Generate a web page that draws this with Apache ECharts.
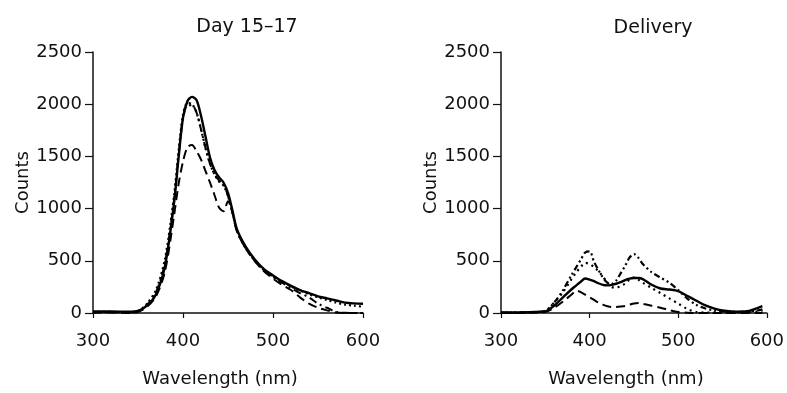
<!DOCTYPE html>
<html>
<head>
<meta charset="utf-8">
<script src="https://cdn.jsdelivr.net/npm/echarts@6/dist/echarts.min.js"></script>
<style>
html,body{margin:0;padding:0;background:#fff;}
#chart{width:787px;height:393px;}
</style>
</head>
<body>
<div id="chart"></div>
<script>
// ---- Data ----
const panelTitles = ["Day 15\u201317", "Delivery"];
const xTicks = [300, 400, 500, 600];
const yTicks = [0, 500, 1000, 1500, 2000, 2500];

// Day 15-17 panel
const wlDay = [300,320,340,350,360,370,380,390,395,400,405,410,415,420,425,430,435,440,445,450,455,460,470,480,490,500,510,520,530,540,550,560,570,580,590,600];
const daySolid  = [15,15,12,20,70,180,450,1050,1480,1870,2030,2070,2040,1890,1690,1490,1370,1300,1250,1150,980,800,630,510,420,360,305,260,220,190,160,140,120,100,92,88];
const dayDotted = [10,10,8,18,90,220,520,1120,1540,1900,2010,2000,1920,1760,1580,1430,1330,1260,1220,1120,960,790,615,500,410,350,300,255,215,180,150,125,100,80,70,60];
const dayDashed = [5,5,0,10,60,160,400,930,1230,1450,1590,1610,1550,1470,1360,1250,1130,1010,975,1070,960,780,615,495,400,330,270,220,150,90,50,25,5,0,0,0];
const dayDashDot= [8,8,5,15,80,200,480,1080,1500,1860,1990,1990,1920,1760,1580,1430,1330,1270,1230,1120,960,785,615,500,405,345,290,240,190,150,90,50,10,2,0,0];

// Delivery panel
const wlDel = [300,320,340,350,360,370,380,385,390,395,400,405,410,415,420,425,430,435,440,445,450,455,460,470,480,490,500,510,520,530,540,550,560,570,580,590,595];
const delSolid  = [5,5,10,15,70,150,230,265,300,330,320,305,285,270,265,270,280,295,315,330,335,335,325,270,235,225,210,165,120,75,45,25,15,12,20,50,65];
const delDotted = [5,5,10,20,100,200,330,390,440,480,470,440,400,350,290,250,240,260,280,320,340,320,290,240,190,140,90,40,10,5,5,5,5,5,10,15,20];
const delDashed = [0,0,5,10,50,110,180,215,200,175,150,125,100,80,65,57,58,62,68,80,92,95,88,70,50,28,10,3,0,0,0,0,0,0,0,0,0];
const delDashDot= [5,5,10,20,100,220,370,440,510,580,590,490,410,340,290,280,310,380,450,530,565,530,470,390,340,290,220,140,80,45,25,15,10,10,15,25,35];

// ---- Build ----
function pairs(xs, ys){ return xs.map((x,i)=>[x, ys[i]]); }

const FONT = "DejaVu Sans";
const grids = [
  {left:93, top:52, width:270, height:261},
  {left:501, top:52, width:268, height:261}
];

function mkX(i){
  return {
    gridIndex:i, type:'value', min:xTicks[0], max:xTicks[xTicks.length-1], interval:100,
    name:'Wavelength (nm)', nameLocation:'middle', nameGap:57,
    nameTextStyle:{fontFamily:FONT, fontSize:18, color:'#111', padding:[0,16,0,0]},
    axisLine:{lineStyle:{color:'#111', width:1.5}},
    axisTick:{show:true, inside:false, length:5, lineStyle:{color:'#111', width:1.2}},
    axisLabel:{fontFamily:FONT, fontSize:18, color:'#111', margin:19, formatter:v=>String(v)},
    splitLine:{show:false}
  };
}
function mkY(i){
  return {
    gridIndex:i, type:'value', min:yTicks[0], max:yTicks[yTicks.length-1], interval:500,
    name:'Counts', nameLocation:'middle', nameGap:56, nameRotate:90,
    nameTextStyle:{fontFamily:FONT, fontSize:18, color:'#111'},
    axisLine:{show:true, lineStyle:{color:'#111', width:1.5}},
    axisTick:{show:true, inside:false, length:8, lineStyle:{color:'#111', width:1.2}},
    axisLabel:{fontFamily:FONT, fontSize:18, color:'#111', margin:11, formatter:v=>String(v)},
    splitLine:{show:false}
  };
}
function mkLine(i, xs, ys, type, width){
  return {
    type:'line', xAxisIndex:i, yAxisIndex:i, data:pairs(xs, ys),
    showSymbol:false, symbol:'none', smooth:0.3,
    lineStyle:{color:'#000', width:width, type:type}
  };
}

const chart = echarts.init(document.getElementById('chart'), null, {renderer:'canvas'});
chart.setOption({
  backgroundColor:'#ffffff',
  animation:false,
  title:[
    {text:panelTitles[0], left:242, top:13, textAlign:'center', textStyle:{fontFamily:FONT, fontSize:19, fontWeight:'normal', color:'#111'}},
    {text:panelTitles[1], left:648, top:14, textAlign:'center', textStyle:{fontFamily:FONT, fontSize:19, fontWeight:'normal', color:'#111'}}
  ],
  grid:grids,
  xAxis:[mkX(0), mkX(1)],
  yAxis:[mkY(0), mkY(1)],
  series:[
    mkLine(0, wlDay, dayDashed, [9,5], 2),
    mkLine(0, wlDay, dayDashDot, [8,4,2,4], 2),
    mkLine(0, wlDay, dayDotted, [2,3], 2.2),
    mkLine(0, wlDay, daySolid, 'solid', 2.4),
    mkLine(1, wlDel, delDashed, [9,5], 2),
    mkLine(1, wlDel, delDotted, [2,4], 2.2),
    mkLine(1, wlDel, delDashDot, [6,3,2,3,2,3], 2.2),
    mkLine(1, wlDel, delSolid, 'solid', 2.4)
  ]
});
</script>
</body>
</html>
